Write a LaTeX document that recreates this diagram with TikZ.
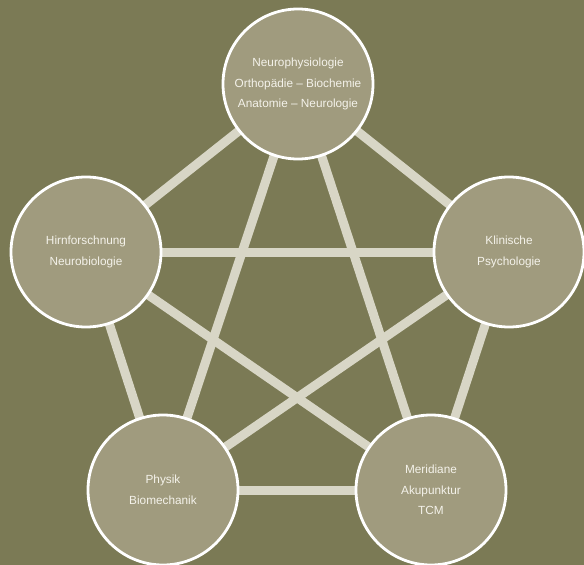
\documentclass[tikz,border=0pt]{standalone}
\usepackage{fontspec}
\setmainfont{Liberation Sans}
\usetikzlibrary{backgrounds}
\definecolor{bgcol}{HTML}{7B7A55}
\definecolor{fillcol}{HTML}{A09B7E}
\definecolor{linecol}{HTML}{D8D6C6}
\definecolor{txtcol}{HTML}{F4F2EA}
\begin{document}
\begin{tikzpicture}[x=1pt,y=-1pt,
  topic/.style={circle,draw=white,line width=2.8pt,fill=fillcol,minimum size=150pt,inner sep=0pt,
    align=center,text=txtcol,font=\fontsize{11.8}{20.5}\selectfont},
  link/.style={draw=linecol,line width=9pt}]
\useasboundingbox (0,0) rectangle (584,565);
\node[topic] (T) at (298,84) {Neurophysiologie\\Orthopädie – Biochemie\\Anatomie – Neurologie};
\node[topic] (L) at (86,252) {Hirnforschnung\\Neurobiologie};
\node[topic] (R) at (509,252) {Klinische\\Psychologie};
\node[topic] (BL) at (163,490) {Physik\\Biomechanik};
\node[topic] (BR) at (431,490) {Meridiane\\Akupunktur\\TCM};
\begin{scope}[on background layer]
\fill[bgcol] (0,0) rectangle (584,565);
\draw[link] (T.center) -- (L.center);
\draw[link] (T.center) -- (R.center);
\draw[link] (T.center) -- (BL.center);
\draw[link] (T.center) -- (BR.center);
\draw[link] (L.center) -- (R.center);
\draw[link] (L.center) -- (BL.center);
\draw[link] (L.center) -- (BR.center);
\draw[link] (R.center) -- (BL.center);
\draw[link] (R.center) -- (BR.center);
\draw[link] (BL.center) -- (BR.center);
\end{scope}
\end{tikzpicture}
\end{document}
